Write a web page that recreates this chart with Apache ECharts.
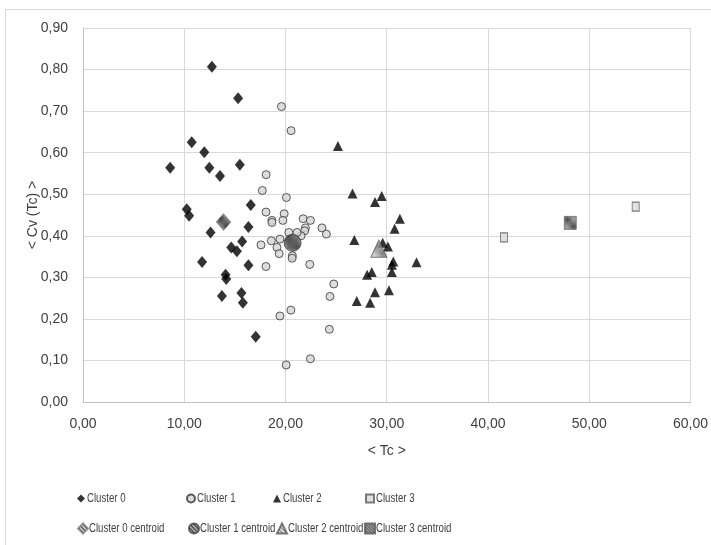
<!DOCTYPE html>
<html>
<head>
<meta charset="utf-8">
<script src="https://cdn.jsdelivr.net/npm/echarts@6/dist/echarts.min.js"></script>
<style>
html,body{margin:0;padding:0;background:#fff;}
#chart{width:711px;height:545px;}
</style>
</head>
<body>
<div id="chart"></div>
<script>
// ---- Data ----
const seriesNames = ['Cluster 0','Cluster 1','Cluster 2','Cluster 3',
  'Cluster 0 centroid','Cluster 1 centroid','Cluster 2 centroid','Cluster 3 centroid'];

const cluster0 = [[12.73,0.807],[15.32,0.731],[10.74,0.625],[11.98,0.601],[8.61,0.564],[12.48,0.564],
  [15.49,0.571],[13.53,0.544],[16.57,0.474],[10.25,0.464],[10.48,0.448],[12.6,0.408],[16.34,0.421],
  [15.72,0.386],[14.64,0.372],[15.2,0.363],[11.76,0.337],[16.34,0.329],[14.08,0.306],[14.15,0.296],
  [13.72,0.255],[15.65,0.262],[15.79,0.239],[17.06,0.157]];

const cluster1 = [[19.6,0.711],[20.55,0.653],[18.09,0.547],[17.71,0.509],[20.09,0.492],[18.07,0.457],
  [19.87,0.453],[18.66,0.437],[18.66,0.432],[19.74,0.437],[21.74,0.441],[22.46,0.437],[21.97,0.419],
  [21.9,0.412],[21.54,0.400],[21.14,0.408],[20.33,0.408],[23.6,0.419],[24.04,0.404],[17.58,0.378],
  [18.6,0.388],[19.45,0.392],[19.16,0.372],[19.38,0.357],[20.68,0.352],[20.66,0.346],[18.07,0.326],
  [22.4,0.331],[24.77,0.284],[24.39,0.254],[20.53,0.221],[19.45,0.207],[24.33,0.175],[20.07,0.089],
  [22.46,0.104]];

const cluster2 = [[25.18,0.616],[26.62,0.502],[29.5,0.496],[28.84,0.481],[31.3,0.441],[30.78,0.417],
  [26.8,0.390],[29.6,0.383],[30.12,0.374],[30.65,0.338],[30.51,0.330],[32.94,0.336],[30.51,0.313],
  [28.52,0.313],[28.06,0.306],[30.22,0.269],[28.84,0.264],[27.04,0.243],[28.36,0.239]];

const cluster3 = [[41.58,0.396],[54.59,0.470]];

const centroid0 = [[13.88,0.433]];
const centroid1 = [[20.7,0.383]];
const centroid2 = [[29.22,0.369]];
const centroid3 = [[48.13,0.431]];

const xTicks = {min:0, max:60, interval:10};
const yTicks = {min:0, max:0.9, interval:0.1};

// ---- Styling helpers ----
function hatch(bg, fg, size, lw){
  const c = document.createElement('canvas');
  c.width = size; c.height = size;
  const g = c.getContext('2d');
  g.fillStyle = bg; g.fillRect(0,0,size,size);
  g.strokeStyle = fg; g.lineWidth = lw;
  g.beginPath();
  g.moveTo(-1,-1); g.lineTo(size+1,size+1);
  g.moveTo(-1,size-1); g.lineTo(1,size+1);
  g.moveTo(size-1,-1); g.lineTo(size+1,1);
  g.stroke();
  return {image:c, repeat:'repeat'};
}
const fmt = v => v.toFixed(2).replace('.', ',');
const FONT = '"Liberation Sans", Arial, sans-serif';
const TXT = '#404040';

const chart = echarts.init(document.getElementById('chart'), null, {renderer:'canvas'});

const styles = [
  {symbol:'diamond', size:[10,12], item:{color:'#000'}, icon:'diamond'},
  {symbol:'circle', size:8, item:{color:'#d4d4d4', borderColor:'#333333', borderWidth:1}, icon:'circle'},
  {symbol:'triangle', size:[10,10], item:{color:'#000'}, icon:'triangle'},
  {symbol:'rect', size:[7,9], item:{color:'#d9d9d9', borderColor:'#595959', borderWidth:1}, icon:'rect'},
  {symbol:'diamond', size:[15,17], item:{color:hatch('#ffffff','#000000',4,1.5), borderColor:'#7f7f7f', borderWidth:0.6}, icon:'diamond'},
  {symbol:'circle', size:17, item:{color:hatch('#ffffff','#262626',4,2.0), borderColor:'#404040', borderWidth:1}, icon:'circle'},
  {symbol:'triangle', size:[16,17], item:{color:hatch('#ffffff','#595959',4,1.3), borderColor:'#595959', borderWidth:1}, icon:'triangle'},
  {symbol:'rect', size:[12,13], item:{color:hatch('#ffffff','#1a1a1a',3,1.5), borderColor:'#595959', borderWidth:0.8}, icon:'rect'}
];
const datas = [cluster0, cluster1, cluster2, cluster3, centroid0, centroid1, centroid2, centroid3];

const series = seriesNames.map((n,i)=>({
  name:n, type:'scatter', data:datas[i], symbol:styles[i].symbol, symbolSize:styles[i].size,
  itemStyle:styles[i].item, z: i<4 ? 2 : 3, emphasis:{disabled:true}, animation:false
}));

const legendPos = [
  {left:77, top:492}, {left:186, top:492}, {left:273, top:492}, {left:365, top:492},
  {left:77, top:522}, {left:188, top:522}, {left:276, top:522}, {left:364, top:522}
];
const legends = seriesNames.map((n,i)=>({
  data:[{name:n, icon:styles[i].icon}], left:legendPos[i].left, top:legendPos[i].top,
  itemWidth: i<4 ? 8 : 10, itemHeight: i<4 ? 8 : 10, padding:0, selectedMode:false,
  textStyle:{fontFamily:FONT, fontSize:13, color:TXT}
}));

chart.setOption({
  animation:false,
  backgroundColor:'#fff',
  graphic:[{type:'rect', shape:{x:5.5, y:9.5, width:800, height:600}, style:{fill:'none', stroke:'#d9d9d9', lineWidth:1}, silent:true, z:-1}],
  grid:{left:83, right:16, top:28, bottom:143, containLabel:false},
  xAxis:{
    type:'value', min:xTicks.min, max:xTicks.max, interval:xTicks.interval,
    name:'< Tc >', nameLocation:'middle', nameGap:42, nameMoveOverlap:false,
    nameTextStyle:{fontFamily:FONT, fontSize:14, color:TXT},
    axisLine:{show:true, lineStyle:{color:'#bfbfbf', width:1}},
    axisTick:{show:false},
    axisLabel:{formatter:fmt, fontFamily:FONT, fontSize:14, color:TXT, margin:15},
    splitLine:{show:true, lineStyle:{color:'#d9d9d9', width:1}}
  },
  yAxis:{
    type:'value', min:yTicks.min, max:yTicks.max, interval:yTicks.interval,
    name:'< Cv (Tc) >', nameLocation:'middle', nameGap:43, nameRotate:90, nameMoveOverlap:false,
    nameTextStyle:{fontFamily:FONT, fontSize:14, color:TXT},
    axisLine:{show:true, lineStyle:{color:'#bfbfbf', width:1}},
    axisTick:{show:false},
    axisLabel:{formatter:fmt, fontFamily:FONT, fontSize:14, color:TXT, margin:15},
    splitLine:{show:true, lineStyle:{color:'#d9d9d9', width:1}}
  },
  legend:legends,
  series:series
});

// Condense legend text horizontally (reference uses a narrow font)
(function condense(){
  const zr = chart.getZr();
  const roots = zr.storage.getRoots();
  roots.forEach(r => {
    const visit = el => {
      if (!el.isGroup && el.style && typeof el.style.text === 'string') {
        const idx = seriesNames.indexOf(el.style.text);
        if (idx >= 0) {
          el.originX = el.style.x || 0;
          el.originY = el.style.y || 0;
          el.scaleX = 0.74;
          el.x = (el.x || 0) - (idx < 4 ? 3 : 4);
          el.markRedraw();
        }
      }
    };
    if (r.traverse) r.traverse(visit); else visit(r);
  });
  zr.refreshImmediately();
})();
</script>
</body>
</html>
